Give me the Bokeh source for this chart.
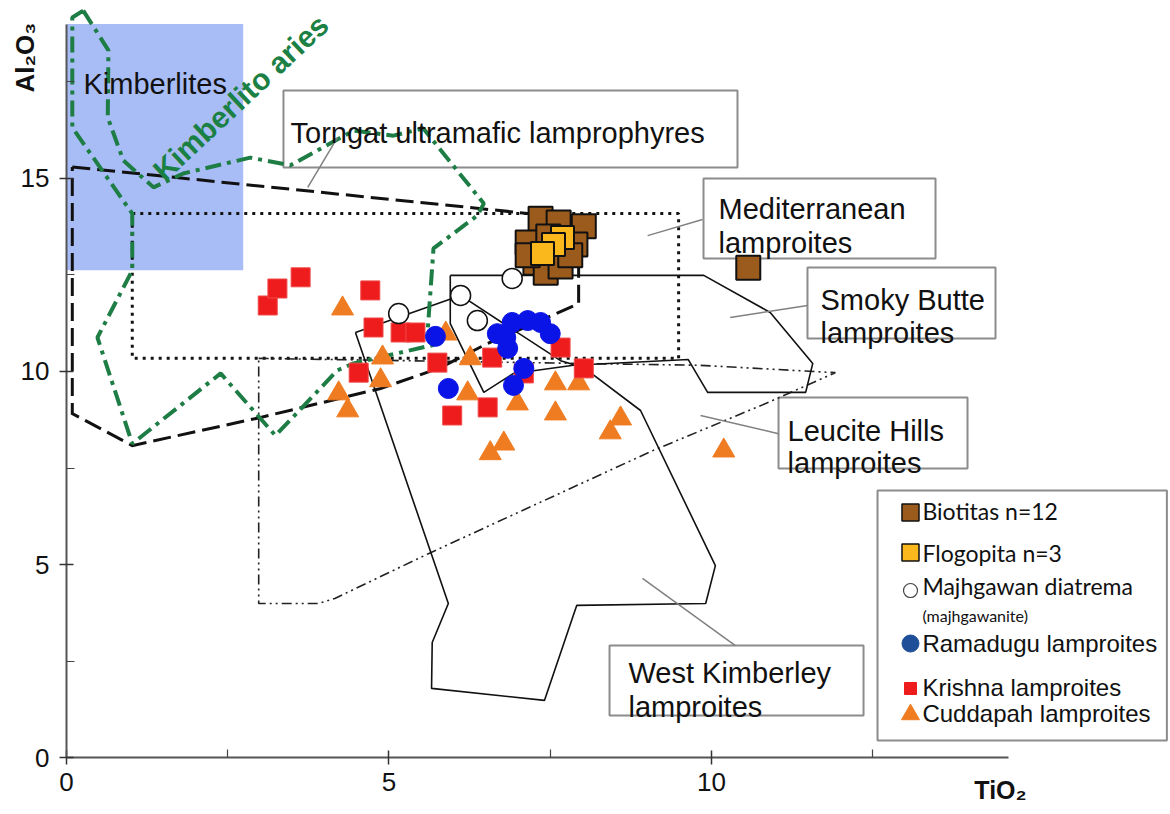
import math
from bokeh.plotting import figure
from bokeh.models import Range1d, FixedTicker
from bokeh.core.properties import value
from bokeh.embed import file_html
from bokeh.resources import INLINE

# ---------------- data ----------------
X_TICKS = [0, 5, 10]
X_MINOR = [2.5, 7.5, 12.5]
Y_TICKS = [0, 5, 10, 15]
Y_MINOR = [2.5, 7.5, 12.5, 17.5]

# Fields (outlines)
KIMB_X = [0.0, 2.74]          # Kimberlites rectangle (x span)
KIMB_Y = [12.62, 19.0]        # (y span)

GREEN_X = [0.26, 0.65, 0.64, 0.88, 1.35, 1.81, 2.85, 3.47, 4.45, 5.07, 5.53, 6.47, 6.37,
           5.69, 5.60, 5.80, 4.45, 4.20, 3.24, 2.39, 1.02, 0.48, 1.02, 1.02, 0.09, 0.09, 0.26]
GREEN_Y = [19.35, 18.32, 16.58, 15.47, 14.77, 15.13, 15.54, 15.34, 16.24, 16.11, 16.30, 14.35, 14.04,
           13.19, 11.06, 10.73, 10.21, 10.03, 8.34, 9.95, 8.13, 10.88, 12.62, 14.09, 16.32, 19.17, 19.35]

TORN_X = [0.09, 7.94, 7.94, 7.35, 6.53, 5.80, 4.87, 3.01, 1.02, 0.09, 0.09]
TORN_Y = [15.30, 13.96, 11.76, 11.32, 10.73, 10.10, 9.56, 8.81, 8.08, 8.91, 15.30]

MED_X = [1.02, 9.49, 9.49, 1.02, 1.02]
MED_Y = [14.09, 14.09, 10.34, 10.34, 14.09]

SMOKY_X = [5.95, 9.88, 10.91, 11.57, 11.46, 9.94, 9.64, 7.86, 6.93, 6.47, 5.95, 5.95]
SMOKY_Y = [12.49, 12.49, 11.53, 10.21, 9.46, 9.46, 10.31, 10.16, 9.95, 9.46, 11.24, 12.49]

WK_X = [4.48, 6.11, 7.66, 8.02, 8.90, 10.06, 9.91, 7.91, 7.41, 5.66, 5.67, 5.92, 4.48]
WK_Y = [11.01, 11.97, 10.28, 10.10, 8.99, 4.97, 3.99, 3.94, 1.48, 1.79, 2.98, 3.99, 11.01]

LEU_X = [2.98, 9.83, 11.92, 10.84, 9.09, 5.61, 4.16, 3.91, 2.98, 2.98]
LEU_Y = [10.34, 10.16, 9.97, 9.17, 7.95, 5.28, 4.12, 3.99, 3.99, 10.34]

# Samples
BIOT_X = [7.35, 7.63, 8.02, 7.15, 7.47, 7.89, 7.27, 7.43, 7.66, 7.81, 7.15, 10.57]
BIOT_Y = [13.96, 13.86, 13.76, 13.34, 13.50, 13.29, 12.82, 12.56, 12.72, 13.01, 13.01, 12.69]
FLOG_X = [7.69, 7.55, 7.38]
FLOG_Y = [13.47, 13.29, 13.06]
MAJH_X = [5.15, 6.11, 6.37, 6.91]
MAJH_Y = [11.50, 11.97, 11.32, 12.41]
RAMA_X = [5.72, 5.92, 6.68, 6.84, 6.91, 7.15, 7.35, 7.50, 7.09, 6.93, 6.81]
RAMA_Y = [10.91, 9.56, 10.98, 10.60, 11.27, 11.32, 11.27, 10.98, 10.08, 9.64, 10.88]
KRIS_X = [3.12, 3.27, 3.63, 4.71, 4.76, 5.18, 5.41, 4.53, 5.75, 5.98, 6.53, 6.60, 7.66, 8.02, 7.09]
KRIS_Y = [11.71, 12.15, 12.44, 12.10, 11.14, 11.01, 11.01, 9.97, 10.23, 8.86, 9.07, 10.36, 10.62, 10.08, 9.95]
CUDD_X = [4.28, 4.90, 4.87, 4.22, 4.36, 5.88, 6.22, 6.26, 6.99, 7.58, 7.94, 7.58, 8.43, 8.59, 6.57, 6.78, 10.19]
CUDD_Y = [11.63, 10.36, 9.77, 9.43, 8.99, 10.98, 9.43, 10.34, 9.17, 9.69, 9.69, 8.91, 8.42, 8.78, 7.88, 8.13, 7.95]

LEGEND_LABELS = ["Biotitas n=12", "Flogopita n=3", "Majhgawan diatrema", "(majhgawanite)",
                 "Ramadugu lamproites", "Krishna lamproites", "Cuddapah lamproites"]

# ---------------- figure ----------------
# the frame covers the whole canvas; axes are pinned at 0 with fixed_location
p = figure(width=1168, height=806, x_range=Range1d(-1.023, 17.085), y_range=Range1d(-1.269, 19.611),
           output_backend="svg", toolbar_location=None,
           min_border_left=0, min_border_right=0, min_border_top=0, min_border_bottom=0)
p.outline_line_color = None
p.xgrid.visible = False
p.ygrid.visible = False

FONT = "Liberation Sans"
xa = p.xaxis[0]
ya = p.yaxis[0]
xa.fixed_location = 0
ya.fixed_location = 0
xa.ticker = FixedTicker(ticks=X_TICKS, minor_ticks=X_MINOR)
ya.ticker = FixedTicker(ticks=Y_TICKS, minor_ticks=Y_MINOR)
xa.bounds = (0, 14.6)
ya.bounds = (0, 19.0)
for ax in (xa, ya):
    ax.axis_line_color = "#555555"
    ax.axis_line_width = 2
    ax.major_tick_line_color = "#333333"
    ax.major_tick_line_width = 1.5
    ax.major_tick_in = 7
    ax.major_tick_out = 7
    ax.minor_tick_line_color = "#444444"
    ax.minor_tick_line_width = 1.2
    ax.minor_tick_in = 8
    ax.minor_tick_out = 0
    ax.major_label_text_font = FONT
    ax.major_label_text_font_size = "26px"
    ax.major_label_text_color = "#111111"
xa.major_label_standoff = 8
ya.major_label_standoff = 10

# Kimberlites field
p.quad(left=[KIMB_X[0]], right=[KIMB_X[1]], bottom=[KIMB_Y[0]], top=[KIMB_Y[1]],
       fill_color="#a8bcf6", line_color=None)

# label boxes (annotation frames)
boxes = dict(left=[3.364, 9.876, 11.488, 11.039, 8.419],
             right=[10.403, 13.473, 14.403, 13.969, 12.357],
             bottom=[15.285, 12.927, 10.855, 7.487, 1.088],
             top=[17.28, 15.0, 12.694, 9.326, 2.902])
p.quad(**boxes, fill_color="white", line_color="#8c8c8c", line_width=2)

# field outlines
p.line(MED_X, MED_Y, line_color="#111111", line_width=3, line_dash="3 5")
p.line(LEU_X, LEU_Y, line_color="#222222", line_width=1.6, line_dash="10 4 2 4 2 4")
p.line(SMOKY_X, SMOKY_Y, line_color="#111111", line_width=1.6)
p.line(WK_X, WK_Y, line_color="#111111", line_width=1.6)
p.line(TORN_X, TORN_Y, line_color="#111111", line_width=3, line_dash="18 7", line_join="miter")
p.line(GREEN_X, GREEN_Y, line_color="#1e7d45", line_width=4, line_dash="16 6 4 6")

# leader lines
p.segment(x0=[4.20, 9.86, 11.49, 11.04, 10.37], y0=[16.06, 13.94, 11.71, 8.39, 2.90],
          x1=[3.74, 9.01, 10.29, 9.83, 8.93], y1=[14.77, 13.52, 11.40, 8.86, 4.64],
          line_color="#808080", line_width=1.5)

# samples
p.scatter(CUDD_X, CUDD_Y, marker="triangle", size=22, fill_color="#f07c22", line_color="#f07c22")
p.scatter(KRIS_X, KRIS_Y, marker="square", size=19, fill_color="#ee1c1c", line_color="#f04848", line_width=1)
p.scatter(RAMA_X, RAMA_Y, marker="circle", size=20, fill_color="#0a14e6", line_color="#0a14e6")
p.scatter(MAJH_X, MAJH_Y, marker="circle", size=20, fill_color="white", line_color="#111111", line_width=1.5)
p.scatter(BIOT_X, BIOT_Y, marker="square", size=24, fill_color="#9a5b1c", line_color="#111111", line_width=2)
p.scatter(FLOG_X, FLOG_Y, marker="square", size=23, fill_color="#fbb81d", line_color="#111111", line_width=2)

# field labels
p.text(x=[0.264, 3.473, 10.109, 10.109, 11.69, 11.69, 11.18, 11.18, 8.713, 8.713],
       y=[17.46, 16.17, 14.22, 13.34, 11.84, 11.01, 8.47, 7.64, 2.20, 1.30],
       text=["Kimberlites", "Torngat ultramafic lamprophyres", "Mediterranean", "lamproites",
             "Smoky Butte", "lamproites", "Leucite Hills", "lamproites", "West Kimberley", "lamproites"],
       text_font=value(FONT), text_font_size="29px", text_color="#111111",
       text_align="left", text_baseline="alphabetic")

p.text(x=[2.70], y=[17.10], text=["Kimberlito aries"], angle=math.radians(43),
       text_font=value(FONT), text_font_size="30px", text_font_style="bold",
       text_color="#1b8043", text_align="center", text_baseline="middle")

# legend
p.quad(left=[12.574], right=[17.06], bottom=[0.44], top=[6.917],
       fill_color="white", line_color="#8c8c8c", line_width=2)
LX = 13.085
p.scatter([LX], [6.347], marker="square", size=17, fill_color="#9a5b1c", line_color="#111111", line_width=1.5)
p.scatter([LX], [5.311], marker="square", size=17, fill_color="#fbb81d", line_color="#111111", line_width=1.5)
p.scatter([LX], [4.326], marker="circle", size=14, fill_color="white", line_color="#444444", line_width=1.2)
p.scatter([LX], [2.953], marker="circle", size=17, fill_color="#1f4e99", line_color="#1f4e99")
p.scatter([LX], [1.788], marker="square", size=12, fill_color="#ee1c1c", line_color="#ee1c1c")
p.scatter([LX], [1.114], marker="triangle", size=18, fill_color="#f07c22", line_color="#f07c22")

p.text(x=[13.27, 13.27, 13.27], y=[6.38, 5.31, 4.45],
       text=LEGEND_LABELS[0:3], text_font=value("Lato"), text_font_size="23px",
       text_color="#111111", text_baseline="middle")
p.text(x=[13.27], y=[3.68], text=[LEGEND_LABELS[3]], text_font=value("Lato"),
       text_font_size="16px", text_color="#111111", text_baseline="middle")
p.text(x=[13.27, 13.27, 13.27], y=[2.95, 1.81, 1.14],
       text=LEGEND_LABELS[4:7], text_font=value(FONT), text_font_size="24px",
       text_color="#111111", text_baseline="middle")

# axis titles
p.text(x=[-0.64], y=[18.13], text=["Al₂O₃"], angle=math.pi / 2,
       text_align="center", text_baseline="middle",
       text_font=value(FONT), text_font_size="26px", text_font_style="bold",
       text_color="#111111")
p.text(x=[14.48], y=[-0.85], text=["TiO₂"],
       text_align="center", text_baseline="middle",
       text_font=value(FONT), text_font_size="25px", text_font_style="bold",
       text_color="#111111")

open("out.html", "w").write(file_html(p, INLINE))
